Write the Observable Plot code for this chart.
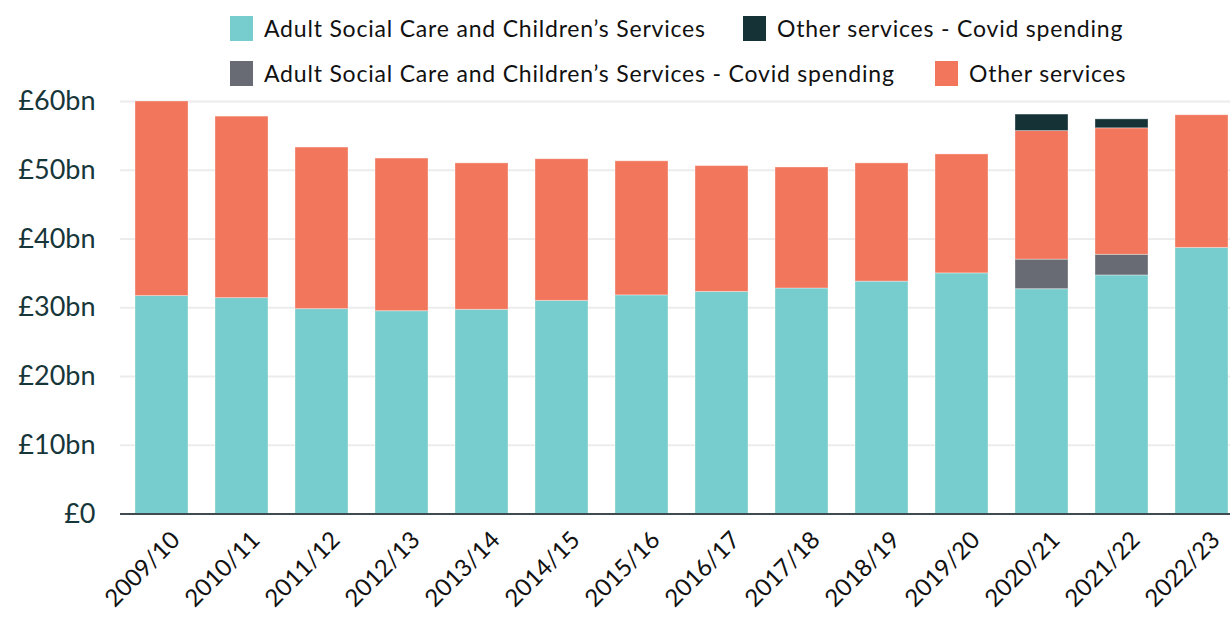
<!DOCTYPE html>
<html>
<head>
<meta charset="utf-8">
<script src="https://cdn.jsdelivr.net/npm/d3@7"></script>
<script src="https://cdn.jsdelivr.net/npm/@observablehq/plot@0.6"></script>
<style>
  html, body { margin: 0; padding: 0; background: #fff; }
  body { width: 1230px; height: 619px; overflow: hidden; font-family: Lato, "Open Sans", sans-serif; }
  #legend { position: relative; width: 1230px; height: 70px; }
  .item { position: absolute; display: flex; align-items: center; font-size: 23px; letter-spacing: 0.8px; color: #111; white-space: nowrap; }
  .sw { width: 23px; height: 25px; margin-right: 11px; }
</style>
</head>
<body>
<div id="legend"></div>
<div id="chart"></div>
<script>
const years = ["2009/10","2010/11","2011/12","2012/13","2013/14","2014/15","2015/16","2016/17","2017/18","2018/19","2019/20","2020/21","2021/22","2022/23"];
const adultChildren      = [31.7, 31.4, 29.8, 29.5, 29.7, 31.0, 31.8, 32.3, 32.8, 33.8, 35.0, 32.7, 34.7, 38.7];
const adultChildrenCovid = [0, 0, 0, 0, 0, 0, 0, 0, 0, 0, 0, 4.3, 3.0, 0];
const otherServices      = [28.3, 26.4, 23.5, 22.2, 21.3, 20.6, 19.5, 18.3, 17.6, 17.2, 17.3, 18.7, 18.4, 19.3];
const otherCovid         = [0, 0, 0, 0, 0, 0, 0, 0, 0, 0, 0, 2.4, 1.3, 0];

const seriesNames = [
  "Adult Social Care and Children\u2019s Services",
  "Adult Social Care and Children\u2019s Services - Covid spending",
  "Other services",
  "Other services - Covid spending"
];
const seriesColors = ["#77CCCD", "#686B73", "#F2765B", "#153236"];
const seriesValues = [adultChildren, adultChildrenCovid, otherServices, otherCovid];
const yTicks = [0, 10, 20, 30, 40, 50, 60];

const data = [];
years.forEach((y, i) => {
  seriesNames.forEach((s, j) => data.push({year: y, series: s, value: seriesValues[j][i]}));
});

// Legend (HTML, above the SVG)
const legendLayout = [
  {idx: 0, left: 230, top: 14},
  {idx: 3, left: 743, top: 14},
  {idx: 1, left: 230, top: 59},
  {idx: 2, left: 935, top: 59}
];
const legend = document.getElementById("legend");
legendLayout.forEach(({idx, left, top}) => {
  const d = document.createElement("div");
  d.className = "item";
  d.style.left = left + "px";
  d.style.top = top + "px";
  const sw = document.createElement("span");
  sw.className = "sw";
  sw.style.background = seriesColors[idx];
  const t = document.createElement("span");
  t.textContent = seriesNames[idx];
  d.appendChild(sw); d.appendChild(t);
  legend.appendChild(d);
});

const chart = Plot.plot({
  width: 1230,
  height: 549,
  marginLeft: 120,
  marginRight: 0,
  marginTop: 31,
  marginBottom: 105.5,
  style: {fontFamily: "Lato, 'Open Sans', sans-serif", background: "transparent", overflow: "visible"},
  x: {type: "band", domain: years, paddingInner: 0.34, paddingOuter: 0.095, align: 0.855, label: null},
  y: {domain: [0, 60], label: null},
  color: {domain: seriesNames, range: seriesColors},
  marks: [
    Plot.gridY(yTicks, {stroke: "#ececec", strokeOpacity: 1, strokeWidth: 2}),
    Plot.barY(data, {x: "year", y: "value", fill: "series", stroke: "#fff", strokeOpacity: 0.35, strokeWidth: 1}),
    Plot.ruleY([0], {stroke: "#3f4b50", strokeWidth: 2}),
    Plot.axisY(yTicks, {tickSize: 0, tickPadding: 25, fontSize: 27, color: "#17363a",
      tickFormat: d => d === 0 ? "£0" : `£${d}bn`, style: "letter-spacing: 1px"}),
    Plot.axisX({tickSize: 0, tickRotate: -45, tickPadding: 14, fontSize: 24, color: "#111", dx: 14, dy: 8})
  ]
});
chart.style.position = "absolute";
chart.style.left = "0px";
chart.style.top = "70px";
document.getElementById("chart").appendChild(chart);
</script>
</body>
</html>
